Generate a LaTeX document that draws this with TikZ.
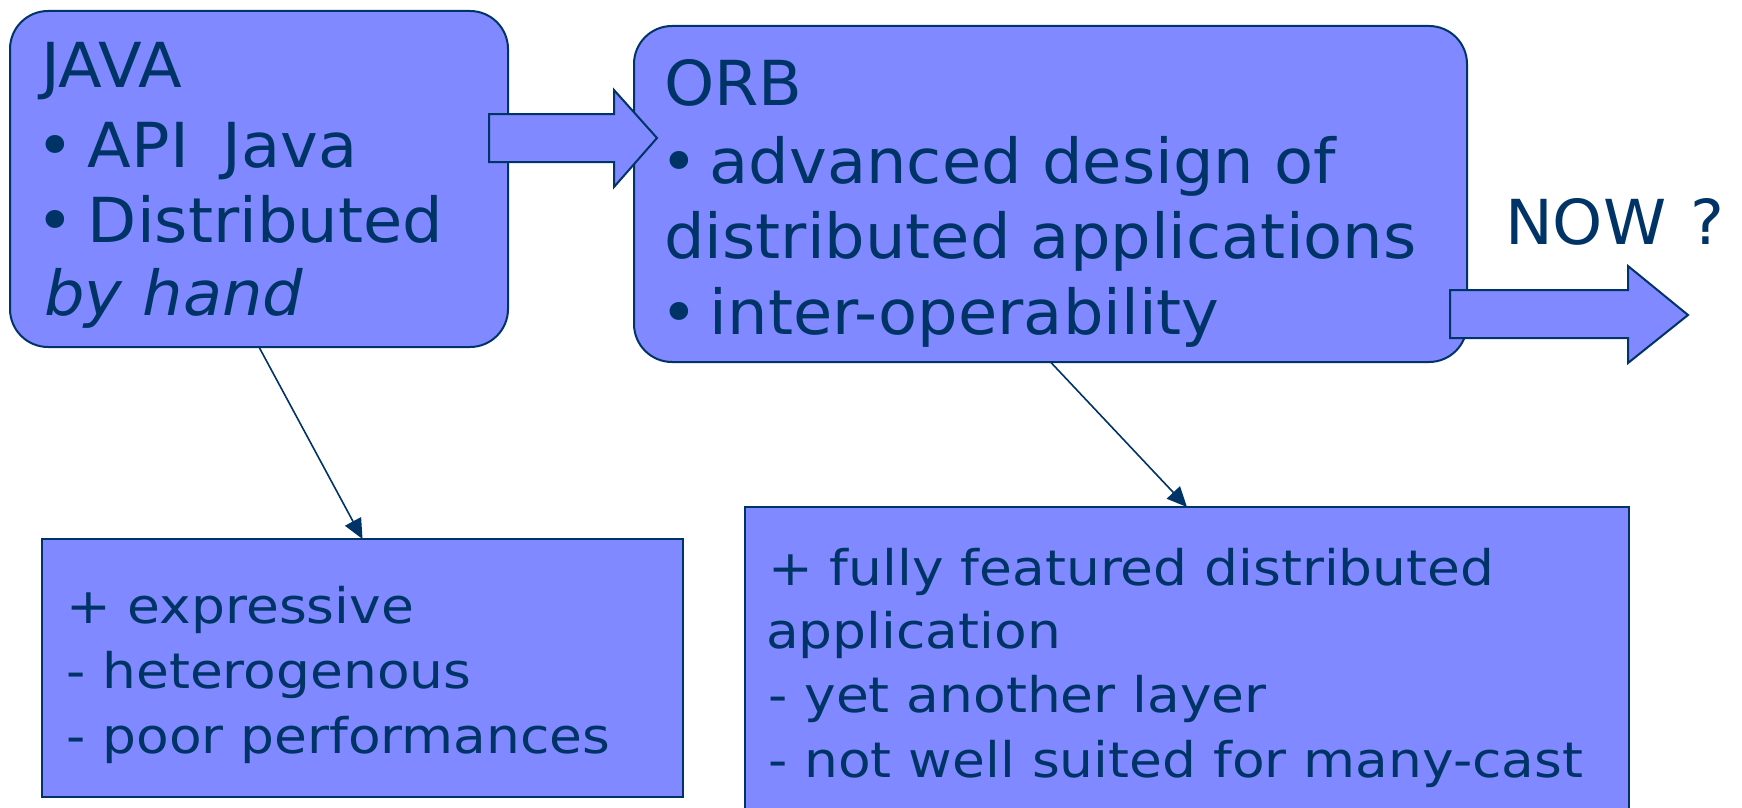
\documentclass[tikz,border=0pt]{standalone}
\usepackage{fontspec}
\setmainfont{DejaVu Sans}[FakeStretch=1.03]
\newfontfamily\widefont[FakeStretch=1.09]{DejaVu Sans}
\usetikzlibrary{arrows.meta}

\definecolor{navy}{RGB}{0,51,102}
\definecolor{boxfill}{RGB}{128,137,255}

\tikzset{
  box/.style={draw=navy, line width=2pt, fill=boxfill, inner sep=0pt, outer sep=0pt, anchor=north west},
  rbox/.style={box, rounded corners=38pt},
  bigtext/.style={font=\fontsize{62}{76}\selectfont, text=navy, inner sep=0pt, anchor=base west},
  smalltext/.style={font=\widefont\fontsize{49}{64}\selectfont, text=navy, inner sep=0pt, anchor=base west},
  link/.style={draw=navy, line width=1.6pt, -{Triangle[length=20pt,width=18pt]}},
  blockarrow/.style={draw=navy, line width=2pt, fill=boxfill, line join=miter}
}

\begin{document}
\begin{tikzpicture}[x=1pt, y=-1pt]
  \useasboundingbox (0,0) rectangle (1742,808);

  % boxes
  \node[rbox, minimum width=498pt, minimum height=336pt] (java) at (10,11) {};
  \node[rbox, minimum width=833pt, minimum height=336pt] (orb) at (634,26) {};
  \node[box, minimum width=641pt, minimum height=258pt] (pros) at (42,539) {};
  \node[box, minimum width=884pt, minimum height=320pt] (cons) at (745,507) {};

  % block arrows
  \draw[blockarrow] (489,114) -- (614,114) -- (614,90) -- (657,138)
        -- (614,187) -- (614,162) -- (489,162) -- cycle;
  \draw[blockarrow] (1450,290) -- (1628,290) -- (1628,266) -- (1688,315)
        -- (1628,363) -- (1628,338) -- (1450,338) -- cycle;

  % connectors
  \draw[link] (java.south) -- (pros.north);
  \draw[link] (orb.south) -- (cons.north);

  % JAVA box text
  \node[bigtext] (j1) at (41,88) {JAVA};
  \node[bigtext] (j2) at (36,167) {•\hspace{14pt}API\hspace{34pt}Java};
  \node[bigtext] (j3) at (36,242) {•\hspace{14pt}Distributed};
  \node[bigtext] (j4) at (44,315) {\itshape by hand};

  % ORB box text
  \node[bigtext] (o1) at (664,105) {ORB};
  \node[bigtext] (o2) at (660,183) {•\hspace{12pt}advanced design of};
  \node[bigtext] (o3) at (664,258) {distributed applications};
  \node[bigtext] (o4) at (660,334) {•\hspace{12pt}inter-operability};

  % label above the outgoing arrow
  \node[bigtext] (now) at (1505,244) {NOW\hspace{24pt}?};

  % pros / cons text
  \node[smalltext] (p1) at (66,623) {+ expressive};
  \node[smalltext] (p2) at (66,688) {- heterogenous};
  \node[smalltext] (p3) at (66,753) {- poor performances};

  \node[smalltext] (c1) at (768,585) {+ fully featured distributed};
  \node[smalltext] (c2) at (766,648) {application};
  \node[smalltext] (c3) at (768,712) {- yet another layer};
  \node[smalltext] (c4) at (768,777) {- not well suited for many-cast};
\end{tikzpicture}
\end{document}
